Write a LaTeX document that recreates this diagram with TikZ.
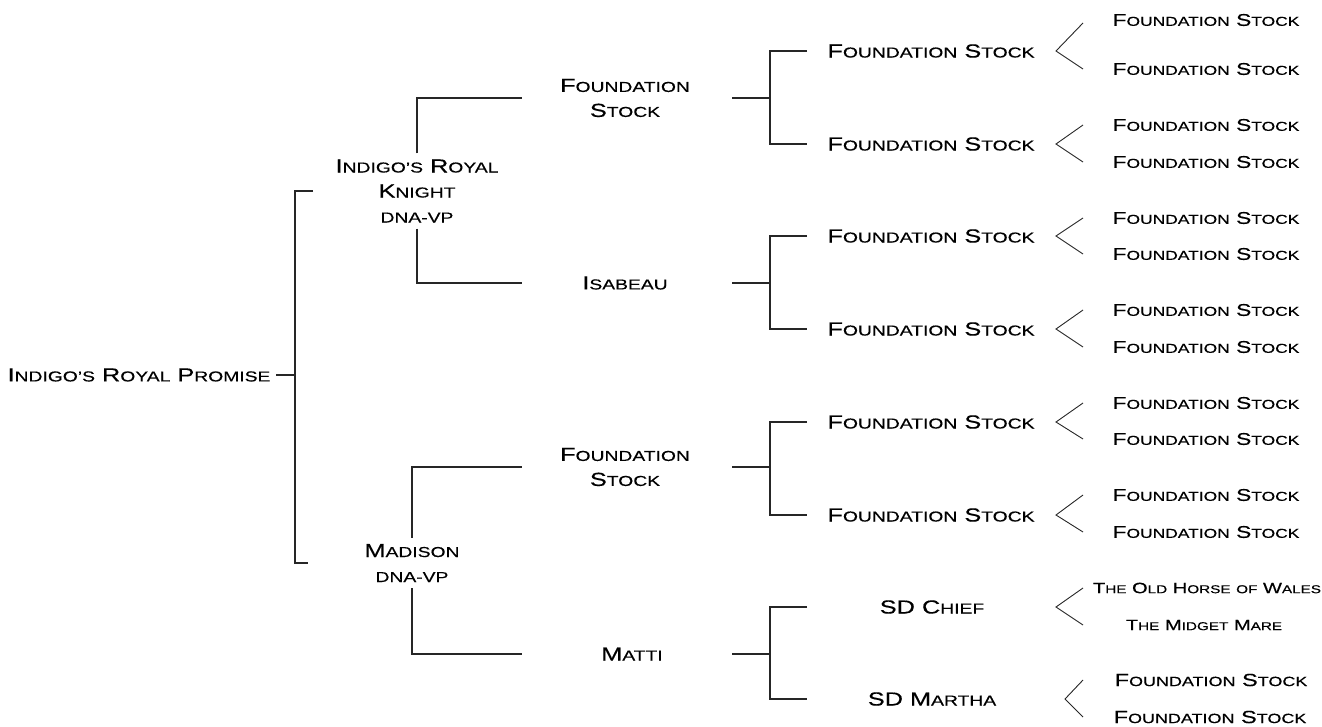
\documentclass[tikz,border=0pt]{standalone}
\usepackage{fontspec}
\newfontfamily\cpfont[FakeStretch=1.34,FakeBold=0.4]{Liberation Sans}
\newcommand\setsz[3]{\def\scsz{#2}\fontsize{#1}{#3}\selectfont}
\newcommand\s[1]{{\fontsize{\scsz}{\scsz}\selectfont\uppercase{#1}}}
\begin{document}
\begin{tikzpicture}[x=1pt,y=-1pt,
  big/.style={font=\cpfont\setsz{18.9}{14.4}{25}, align=center, inner sep=6pt},
  sml/.style={font=\cpfont\setsz{17}{13}{20}, inner sep=3pt},
  sml2/.style={font=\cpfont\setsz{17.6}{13.4}{20}, inner sep=3pt},
  tny/.style={font=\cpfont\setsz{15}{11.4}{18}, inner sep=3pt},
  ln/.style={draw=black!85, line width=1.3pt},
  chev/.style={draw=black!85, line width=0.9pt}]
\useasboundingbox (0,0) rectangle (1322,726);
% helper coordinates (x positions of bracket parts)
\coordinate (k0) at (276,0);
\coordinate (b0) at (295,0);
\coordinate (k1) at (313,0);
\coordinate (k2) at (308,0);
\coordinate (k3) at (522,0);
\coordinate (k4) at (732,0);
\coordinate (b2) at (770,0);
\coordinate (k5) at (807,0);
\coordinate (c1) at (1083,0);
\coordinate (c2) at (1056,0);
\coordinate (c3) at (1065,0);
% generation 0
\node[big] (p0) at (139,375) {I\s{ndigo’s} R\s{oyal} P\s{romise}};
% generation 1
\node[big] (s1) at (417,191) {I\s{ndigo’s} R\s{oyal}\\K\s{night}\\\s{dna-vp}};
\node[big] (s2) at (412,563) {M\s{adison}\\\s{dna-vp}};
% generation 2
\node[big] (t1) at (625,98) {F\s{oundation}\\S\s{tock}};
\node[big] (t2) at (625,283) {I\s{sabeau}};
\node[big] (t3) at (625,467) {F\s{oundation}\\S\s{tock}};
\node[big] (t4) at (632,654) {M\s{atti}};
% generation 3
\node[big] (u1) at (931,51) {F\s{oundation} S\s{tock}};
\node[big] (u2) at (931,144) {F\s{oundation} S\s{tock}};
\node[big] (u3) at (931,236) {F\s{oundation} S\s{tock}};
\node[big] (u4) at (931,329) {F\s{oundation} S\s{tock}};
\node[big] (u5) at (931,422) {F\s{oundation} S\s{tock}};
\node[big] (u6) at (931,515) {F\s{oundation} S\s{tock}};
\node[big] (u7) at (932,607) {SD C\s{hief}};
\node[big] (u8) at (932,699) {SD M\s{artha}};
% generation 4
\node[sml] (v1a) at (1206,20) {F\s{oundation} S\s{tock}};
\node[sml] (v1b) at (1206,69) {F\s{oundation} S\s{tock}};
\node[sml] (v2a) at (1206,125) {F\s{oundation} S\s{tock}};
\node[sml] (v2b) at (1206,162) {F\s{oundation} S\s{tock}};
\node[sml] (v3a) at (1206,218) {F\s{oundation} S\s{tock}};
\node[sml] (v3b) at (1206,254) {F\s{oundation} S\s{tock}};
\node[sml] (v4a) at (1206,310) {F\s{oundation} S\s{tock}};
\node[sml] (v4b) at (1206,347) {F\s{oundation} S\s{tock}};
\node[sml] (v5a) at (1206,403) {F\s{oundation} S\s{tock}};
\node[sml] (v5b) at (1206,439) {F\s{oundation} S\s{tock}};
\node[sml] (v6a) at (1206,495) {F\s{oundation} S\s{tock}};
\node[sml] (v6b) at (1206,532) {F\s{oundation} S\s{tock}};
\node[tny] (v7a) at (1207,588) {T\s{he} O\s{ld} H\s{orse} \s{of} W\s{ales}};
\node[tny] (v7b) at (1204,625) {T\s{he} M\s{idget} M\s{are}};
\node[sml2] (v8a) at (1211,680) {F\s{oundation} S\s{tock}};
\node[sml2] (v8b) at (1210,717) {F\s{oundation} S\s{tock}};
% connectors gen0 -> gen1
\draw[ln] (p0 -| k0) -- (p0 -| b0);
\draw[ln] (s1 -| k1) -- (s1 -| b0) -- (s2 -| b0) -- (s2 -| k2);
% gen1 -> gen2
\draw[ln] (s1.north) |- (t1 -| k3);
\draw[ln] (s1.south) |- (t2 -| k3);
\draw[ln] (s2.north) |- (t3 -| k3);
\draw[ln] (s2.south) |- (t4 -| k3);
% gen2 -> gen3
\draw[ln] (t1 -| k4) -- (t1 -| b2);
\draw[ln] (u1 -| k5) -- (u1 -| b2) -- (u2 -| b2) -- (u2 -| k5);
\draw[ln] (t2 -| k4) -- (t2 -| b2);
\draw[ln] (u3 -| k5) -- (u3 -| b2) -- (u4 -| b2) -- (u4 -| k5);
\draw[ln] (t3 -| k4) -- (t3 -| b2);
\draw[ln] (u5 -| k5) -- (u5 -| b2) -- (u6 -| b2) -- (u6 -| k5);
\draw[ln] (t4 -| k4) -- (t4 -| b2);
\draw[ln] (u7 -| k5) -- (u7 -| b2) -- (u8 -| b2) -- (u8 -| k5);
% gen3 -> gen4 chevrons
\draw[chev] (v1a -| c1) ++(0,3) -- (u1 -| c2) -- (v1b -| c1);
\draw[chev] (v2a -| c1) -- (u2 -| c2) -- (v2b -| c1);
\draw[chev] (v3a -| c1) -- (u3 -| c2) -- (v3b -| c1);
\draw[chev] (v4a -| c1) -- (u4 -| c2) -- (v4b -| c1);
\draw[chev] (v5a -| c1) -- (u5 -| c2) -- (v5b -| c1);
\draw[chev] (v6a -| c1) -- (u6 -| c2) -- (v6b -| c1);
\draw[chev] (v7a -| c1) -- (u7 -| c2) -- (v7b -| c1);
\draw[chev] (v8a -| c1) -- (u8 -| c3) -- (v8b -| c1);
\end{tikzpicture}
\end{document}
